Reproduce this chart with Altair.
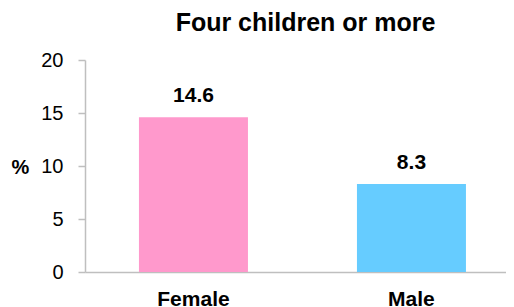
import altair as alt
import pandas as pd

categories = ["Female", "Male"]
values = [14.6, 8.3]
colors = ["#FF99CC", "#66CCFF"]
y_ticks = [0, 5, 10, 15, 20]

df = pd.DataFrame({"sex": categories, "pct": values, "color": colors})

FONT = "Liberation Sans"
GRAY = "#BFBFBF"

base = alt.Chart(df).encode(
    x=alt.X(
        "sex:N",
        sort=categories,
        scale=alt.Scale(paddingInner=0.5, paddingOuter=0.2156, align=0.574),
        axis=alt.Axis(
            title=None, labelAngle=0, labelFont=FONT, labelFontSize=21,
            labelFontWeight="bold", labelColor="black", ticks=False,
            domainColor=GRAY, domainWidth=1.5, labelPadding=16,
        ),
    ),
    y=alt.Y(
        "pct:Q",
        scale=alt.Scale(domain=[0, 20]),
        axis=alt.Axis(
            values=y_ticks, grid=False, title="%", titleAngle=0,
            titleFont=FONT, titleFontSize=20, titleFontWeight="bold",
            titleColor="black", titleX=-65, titleY=107, titleAlign="center",
            titleBaseline="middle",
            labelFont=FONT, labelFontSize=20, labelColor="black",
            labelPadding=15, tickSize=7, tickColor=GRAY, domainColor=GRAY,
            domainWidth=1.5, tickWidth=1.5,
        ),
    ),
)

bars = base.mark_bar().encode(color=alt.Color("color:N", scale=None))
labels = base.mark_text(
    dy=-15, baseline="alphabetic", fontWeight="bold", fontSize=21, font=FONT, color="black"
).encode(text=alt.Text("pct:Q", format=".1f"))

chart = (
    (bars + labels)
    .properties(
        width=421,
        height=212,
        title=alt.TitleParams(
            "Four children or more", font=FONT, fontSize=25, fontWeight="bold",
            color="black", anchor="middle", dx=10, dy=6, offset=0, baseline="alphabetic",
        ),
        autosize=alt.AutoSizeParams(type="none"),
        padding={"left": 77, "top": 52, "right": 0, "bottom": 40},
    )
    .configure_view(stroke=None)
)

chart.save("out.html", embed_options={"renderer": "svg", "actions": False})
